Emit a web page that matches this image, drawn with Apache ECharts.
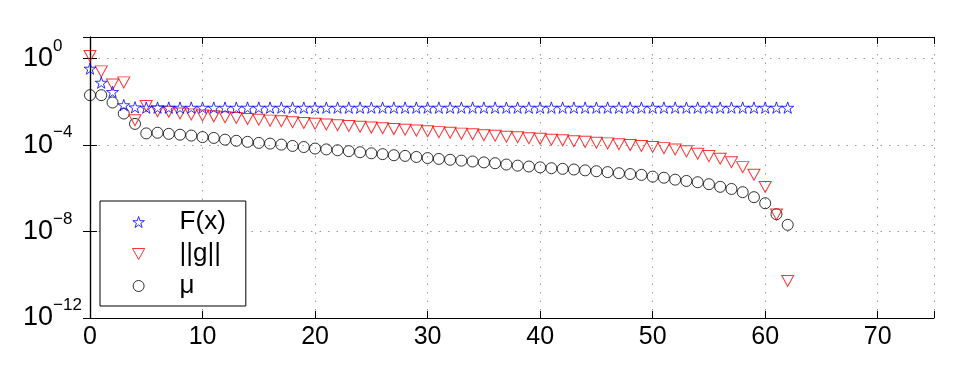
<!DOCTYPE html>
<html><head><meta charset="utf-8">
<script src="https://cdn.jsdelivr.net/npm/echarts@6/dist/echarts.min.js"></script>
<style>html,body{margin:0;padding:0;background:#fff}#c{width:958px;height:368px}</style>
</head><body><div id="c"></div>
<script>
const iterations = [0,1,2,3,4,5,6,7,8,9,10,11,12,13,14,15,16,17,18,19,20,21,22,23,24,25,26,27,28,29,30,31,32,33,34,35,36,37,38,39,40,41,42,43,44,45,46,47,48,49,50,51,52,53,54,55,56,57,58,59,60,61,62];
const fValues = [0.347,0.0776,0.0288,0.00708,0.0056,0.0054,0.0054,0.0054,0.0054,0.0054,
  0.0054,0.0054,0.0054,0.0054,0.0054,0.0054,0.0054,0.0054,0.0054,0.0054,
  0.0054,0.0054,0.0054,0.0054,0.0054,0.0054,0.0054,0.0054,0.0054,0.0054,
  0.0054,0.0054,0.0054,0.0054,0.0054,0.0054,0.0054,0.0054,0.0054,0.0054,
  0.0054,0.0054,0.0054,0.0054,0.0054,0.0054,0.0054,0.0054,0.0054,0.0054,
  0.0054,0.0054,0.0054,0.0054,0.0054,0.0054,0.0054,0.0054,0.0054,0.0054,
  0.0054,0.0054,0.0054];
const gradNorm = [1.32,0.257,0.0631,0.0794,1.41e-3,6.46e-3,3.72e-3,3.47e-3,2.88e-3,2.63e-3,
  2.34e-3,2.14e-3,1.95e-3,1.78e-3,1.62e-3,1.48e-3,1.35e-3,1.26e-3,1.15e-3,1.05e-3,
  9.77e-4,8.91e-4,8.32e-4,7.59e-4,7.08e-4,6.46e-4,6.03e-4,5.50e-4,5.13e-4,4.68e-4,
  4.37e-4,3.98e-4,3.72e-4,3.39e-4,3.16e-4,2.88e-4,2.69e-4,2.45e-4,2.29e-4,2.09e-4,
  1.95e-4,1.78e-4,1.66e-4,1.51e-4,1.41e-4,1.29e-4,1.20e-4,1.10e-4,1.00e-4,9.12e-5,
  8.13e-5,7.24e-5,6.31e-5,5.13e-5,3.98e-5,3.09e-5,2.34e-5,1.62e-5,9.55e-6,4.27e-6,
  1.15e-6,6.17e-8,5.13e-11];
const muValues = [2.04e-2,2.04e-2,9.33e-3,2.88e-3,9.55e-4,3.47e-4,3.72e-4,3.31e-4,3.02e-4,2.75e-4,
  2.34e-4,2.14e-4,1.78e-4,1.58e-4,1.41e-4,1.26e-4,1.17e-4,1.05e-4,9.12e-5,8.13e-5,
  6.92e-5,6.31e-5,5.75e-5,5.25e-5,4.68e-5,4.17e-5,3.80e-5,3.39e-5,3.16e-5,2.82e-5,
  2.51e-5,2.29e-5,2.09e-5,1.91e-5,1.74e-5,1.58e-5,1.45e-5,1.26e-5,1.12e-5,1.02e-5,
  9.33e-6,8.51e-6,7.94e-6,7.41e-6,6.76e-6,6.17e-6,5.62e-6,5.01e-6,4.57e-6,4.17e-6,
  3.47e-6,3.09e-6,2.51e-6,2.19e-6,1.91e-6,1.55e-6,1.17e-6,9.33e-7,6.61e-7,3.89e-7,
  2.04e-7,6.31e-8,2.04e-8];
const seriesNames = ['F(x)', '||g||', '\u03bc'];
const yTickExponents = [0, -4, -8, -12];
const xTickLabels = [0, 10, 20, 30, 40, 50, 60, 70];

const FONT = '"Liberation Sans", Arial, Helvetica, sans-serif';
const STAR = 'path://M50 0 L61.23 34.55 L97.55 34.55 L68.17 55.9 L79.39 90.45 L50 69.1 L20.61 90.45 L31.83 55.9 L2.45 34.55 L38.77 34.55 Z';
const TRI_DOWN = 'path://M0 0 L100 0 L50 90 Z';

function pairs(vals) { return iterations.map((x, i) => [x, vals[i]]); }

const chart = echarts.init(document.getElementById('c'), null, {renderer: 'canvas'});
const axisLine = {show: true, lineStyle: {color: '#000', width: 1.2}};
const gridLine = {show: true, lineStyle: {color: '#999', width: 1, type: [1.5, 7]}};
chart.setOption({
  animation: false,
  backgroundColor: '#fff',
  grid: {left: 90, right: 24, top: 37, bottom: 50, containLabel: false},
  legend: {
    left: 100, top: 201, orient: 'vertical',
    backgroundColor: '#fff', borderColor: '#000', borderWidth: 1,
    padding: [8, 20, 7, 32],
    itemWidth: 14, itemHeight: 11, itemGap: 6,
    selectedMode: false,
    itemStyle: {color: 'rgba(255,255,255,0)', borderWidth: 1},
    textStyle: {fontFamily: FONT, fontSize: 26, color: '#000', lineHeight: 24, padding: [0, 0, 0, 29]},
    data: seriesNames
  },
  xAxis: [{
    type: 'value', min: 0, max: 75, interval: 10, position: 'bottom',
    axisLine: axisLine,
    axisTick: {show: true, inside: true, length: 7, lineStyle: {color: '#000'}},
    axisLabel: {fontFamily: FONT, fontSize: 25, color: '#000', margin: 7,
      formatter: v => xTickLabels.indexOf(v) >= 0 ? String(v) : ''},
    splitLine: gridLine
  }, {
    type: 'value', min: 0, max: 75, interval: 10, position: 'top',
    axisLine: axisLine,
    axisTick: {show: true, inside: true, length: 7, lineStyle: {color: '#000'}},
    axisLabel: {show: false}, splitLine: {show: false}
  }],
  yAxis: [{
    type: 'log', logBase: 10, min: 1e-12, max: 10, interval: 4,
    axisLine: axisLine,
    axisTick: {show: true, inside: true, length: 7, lineStyle: {color: '#000'}},
    minorTick: {show: false},
    axisLabel: {
      align: 'left', margin: 67, color: '#000', fontFamily: FONT,
      formatter: v => {
        const e = Math.round(Math.log10(v));
        if (yTickExponents.indexOf(e) < 0) return '';
        return '{b|10}{s|' + (e < 0 ? '\u2212' + (-e) : String(e)) + '}';
      },
      rich: {
        b: {fontFamily: FONT, fontSize: 27, lineHeight: 42, color: '#000'},
        s: {fontFamily: FONT, fontSize: 17, lineHeight: 17, verticalAlign: 'top', color: '#000'}
      }
    },
    splitLine: gridLine
  }, {
    type: 'log', logBase: 10, min: 1e-12, max: 10, interval: 4, position: 'right',
    axisLine: axisLine,
    axisTick: {show: true, inside: true, length: 7, lineStyle: {color: '#000'}},
    axisLabel: {show: false}, splitLine: {show: false}
  }],
  series: [{
    name: seriesNames[0], type: 'scatter', symbol: STAR, symbolSize: 12, symbolKeepAspect: true,
    itemStyle: {color: 'rgba(255,255,255,0)', borderColor: '#0000ff', borderWidth: 1},
    data: pairs(fValues), z: 3
  }, {
    name: seriesNames[1], type: 'scatter', symbol: TRI_DOWN, symbolSize: [12, 11],
    itemStyle: {color: 'rgba(255,255,255,0)', borderColor: '#ff0000', borderWidth: 1},
    data: pairs(gradNorm), z: 2
  }, {
    name: seriesNames[2], type: 'scatter', symbol: 'circle', symbolSize: 11,
    itemStyle: {color: 'rgba(255,255,255,0)', borderColor: '#000000', borderWidth: 1},
    data: pairs(muValues), z: 1
  }]
});
</script></body></html>
